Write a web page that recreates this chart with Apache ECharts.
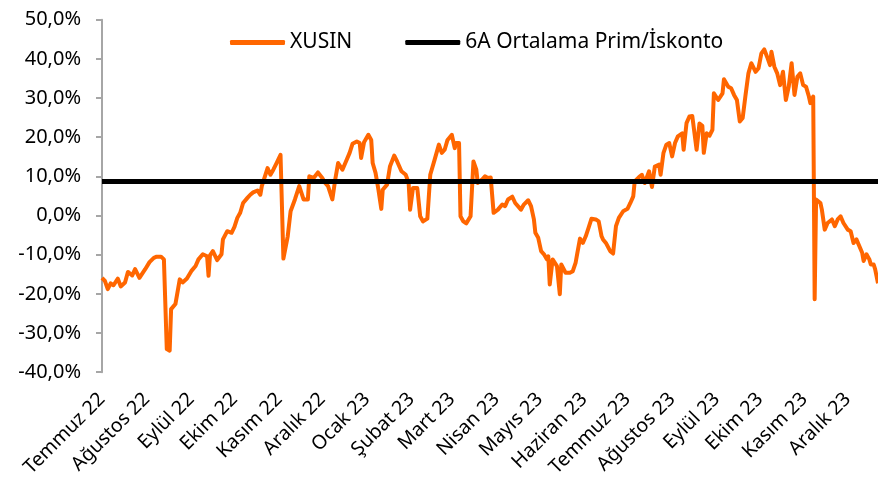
<!DOCTYPE html>
<html>
<head>
<meta charset="utf-8">
<script src="https://cdn.jsdelivr.net/npm/echarts@6/dist/echarts.min.js"></script>
<style>
  html, body { margin: 0; padding: 0; background: #ffffff; }
  #chart { width: 878px; height: 480px; }
</style>
</head>
<body>
<div id="chart"></div>
<script>
// ---- Data ----
const startDate = [2022, 6, 1];          // 1 July 2022 (month is 0-based)
const endDay = 539;                        // last day shown on the axis (days since start)

const monthLabels = ['Temmuz 22', 'Ağustos 22', 'Eylül 22', 'Ekim 22', 'Kasım 22', 'Aralık 22',
  'Ocak 23', 'Şubat 23', 'Mart 23', 'Nisan 23', 'Mayıs 23', 'Haziran 23',
  'Temmuz 23', 'Ağustos 23', 'Eylül 23', 'Ekim 23', 'Kasım 23', 'Aralık 23'];

// days since 1 July 2022
const daysSinceStart = [
  0, 2, 4, 6, 8, 11, 13, 16, 18, 21, 23, 26, 30, 33, 36, 38, 41, 43, 45, 47,
  48, 51, 52, 54, 56, 59, 62, 65, 67, 70, 73, 74, 75, 77, 80, 83, 84, 87, 90, 92,
  94, 96, 98, 101, 103, 105, 108, 110, 111, 115, 117, 119, 121, 124, 126, 129, 131, 134, 137, 140,
  143, 144, 147, 150, 153, 155, 157, 160, 162, 164, 167, 169, 172, 174, 177, 179, 180, 182, 185, 187,
  188, 190, 192, 194, 195, 198, 200, 203, 205, 208, 211, 213, 214, 216, 219, 220, 221, 223, 226, 227,
  228, 231, 234, 236, 238, 240, 243, 245, 246, 248, 249, 251, 253, 256, 258, 260, 261, 264, 266, 268,
  270, 272, 275, 278, 280, 282, 285, 287, 291, 293, 296, 298, 300, 301, 303, 305, 307, 309, 310, 311,
  313, 314, 316, 318, 319, 322, 325, 327, 329, 330, 332, 334, 336, 338, 340, 343, 345, 347, 348, 350,
  353, 355, 357, 359, 362, 365, 367, 369, 370, 373, 375, 377, 380, 382, 384, 387, 388, 390, 392, 394,
  396, 398, 400, 403, 404, 406, 408, 410, 413, 415, 417, 418, 420, 422, 424, 425, 428, 431, 432, 435,
  437, 439, 441, 443, 445, 447, 449, 451, 454, 456, 458, 460, 462, 464, 465, 467, 469, 471, 473, 475,
  477, 479, 481, 483, 485, 487, 489, 491, 492, 494, 495, 496, 499, 500, 502, 504, 507, 509, 511, 513,
  515, 518, 520, 522, 524, 526, 528, 529, 531, 533, 534, 536, 537, 539
];

// XUSIN premium / discount, %
const xusin = [
  -15.9, -16.7, -18.8, -17.3, -17.8, -16.1, -18.1, -17.1, -14.4, -15.3, -13.7, -15.9, -13.7, -11.9, -10.8, -10.5, -10.5, -11.2, -34.1, -34.5,
  -23.9, -22.6, -22.2, -16.3, -17.1, -16.1, -14.2, -12.9, -11.2, -9.9, -10.4, -15.4, -10.2, -9.1, -11.4, -9.9, -6.1, -4.0, -4.4, -2.9,
  -0.6, 0.7, 3.2, 4.5, 5.3, 5.9, 6.4, 5.3, 7.5, 12.1, 10.4, 11.7, 13.2, 15.5, -11.0, -5.3, 1.1, 4.1, 7.5, 4.1,
  4.1, 10.0, 9.6, 11.0, 9.6, 8.3, 7.5, 4.1, 9.2, 13.4, 11.7, 13.4, 16.0, 18.3, 18.9, 18.5, 14.7, 18.7, 20.6, 19.3,
  13.4, 10.9, 6.6, 1.7, 6.6, 7.9, 12.5, 15.3, 13.8, 11.3, 10.4, 8.3, 1.5, 7.0, 7.0, 7.5, -0.2, -1.5, -0.8, -1.0,
  10.4, 14.2, 18.1, 16.0, 16.8, 19.3, 20.6, 17.2, 18.5, 18.5, -0.2, -1.5, -2.0, -0.2, 13.8, 11.7, 8.3, 9.2, 10.0, 9.6,
  9.7, 0.7, 1.5, 2.8, 2.4, 4.1, 4.8, 3.2, 1.5, 2.8, 3.9, 2.4, -1.0, -4.4, -5.7, -9.1, -9.9, -11.2, -10.4, -17.6,
  -11.2, -11.2, -12.9, -20.1, -12.5, -14.6, -14.6, -14.2, -12.0, -9.9, -5.9, -7.0, -5.3, -3.1, -0.8, -1.0, -1.5, -5.3, -6.1, -7.0,
  -9.1, -9.7, -2.7, -0.6, 1.1, 1.7, 3.2, 4.9, 8.7, 9.8, 10.4, 8.3, 11.3, 7.3, 12.5, 13.0, 10.4, 16.0, 18.1, 18.5,
  15.1, 18.5, 20.2, 21.0, 16.8, 23.6, 25.3, 25.4, 16.8, 23.5, 22.9, 16.0, 21.0, 20.4, 21.9, 31.2, 29.5, 31.2, 34.8, 32.9,
  32.5, 30.8, 29.5, 24.0, 24.9, 30.8, 36.3, 38.9, 36.7, 37.6, 41.4, 42.4, 40.5, 38.4, 41.8, 38.0, 36.3, 33.3, 36.7, 29.5,
  32.9, 38.9, 30.8, 35.4, 36.3, 33.3, 32.9, 30.4, 28.7, 30.4, -21.4, 4.1, 3.2, 1.5, -3.6, -1.9, -1.0, -2.7, -1.0, -0.2,
  -1.9, -3.6, -4.0, -7.0, -6.1, -7.8, -9.5, -11.6, -9.9, -11.2, -12.5, -12.5, -13.7, -17.3
];

// 6-year average premium / discount, %
const avgPremium = 8.7;

const yTicks = { min: -40, max: 50, step: 10 };

// ---- Build chart ----
const DAY = 86400000;
const t0 = new Date(startDate[0], startDate[1], startDate[2]).getTime();
const toTime = d => t0 + d * DAY;
const xusinData = daysSinceStart.map((d, i) => [toTime(d), xusin[i]]);
const avgData = [[toTime(0), avgPremium], [toTime(endDay), avgPremium]];

const FONT = 'Noto Sans';
const chart = echarts.init(document.getElementById('chart'), null, { renderer: 'canvas' });
chart.setOption({
  animation: false,
  backgroundColor: '#ffffff',
  textStyle: { fontFamily: FONT },
  grid: { left: 102, right: 0, top: 19.7, bottom: 106.5, containLabel: false },
  legend: {
    left: 230, top: 32, padding: 0,
    itemWidth: 55, itemHeight: 5, itemGap: 53,
    icon: 'roundRect',
    textStyle: { fontFamily: FONT, fontSize: 21, color: '#000000', padding: [0, 0, 0, 0] },
    data: ['XUSIN', '6A Ortalama Prim/İskonto']
  },
  xAxis: {
    type: 'time',
    min: toTime(0),
    max: toTime(endDay),
    splitNumber: 18,
    axisLine: { show: false },
    axisTick: { show: false },
    splitLine: { show: false },
    axisLabel: {
      rotate: 45,
      margin: 24,
      fontFamily: FONT,
      fontSize: 19.5,
      color: '#000000',
      hideOverlap: false,
      formatter: function (value) {
        const d = new Date(value);
        if (d.getDate() !== 1) return '';
        const idx = (d.getFullYear() - 2022) * 12 + d.getMonth() - 6;
        return monthLabels[idx] || '';
      }
    }
  },
  yAxis: {
    type: 'value',
    min: yTicks.min, max: yTicks.max, interval: yTicks.step,
    axisLine: { show: true, lineStyle: { color: '#a6a6a6', width: 2 } },
    axisTick: { show: true, inside: false, length: 6, lineStyle: { color: '#a6a6a6', width: 2 } },
    splitLine: { show: false },
    axisLabel: {
      margin: 21,
      fontFamily: FONT,
      fontSize: 20,
      color: '#000000',
      formatter: v => v.toFixed(1).replace('.', ',') + '%'
    }
  },
  series: [
    {
      name: 'XUSIN',
      type: 'line',
      data: xusinData,
      showSymbol: false,
      symbol: 'none',
      z: 2,
      lineStyle: { color: '#ff6600', width: 4, join: 'round' },
      itemStyle: { color: '#ff6600' }
    },
    {
      name: '6A Ortalama Prim/İskonto',
      type: 'line',
      data: avgData,
      showSymbol: false,
      symbol: 'none',
      z: 3,
      lineStyle: { color: '#000000', width: 5 },
      itemStyle: { color: '#000000' }
    }
  ]
});
</script>
</body>
</html>
